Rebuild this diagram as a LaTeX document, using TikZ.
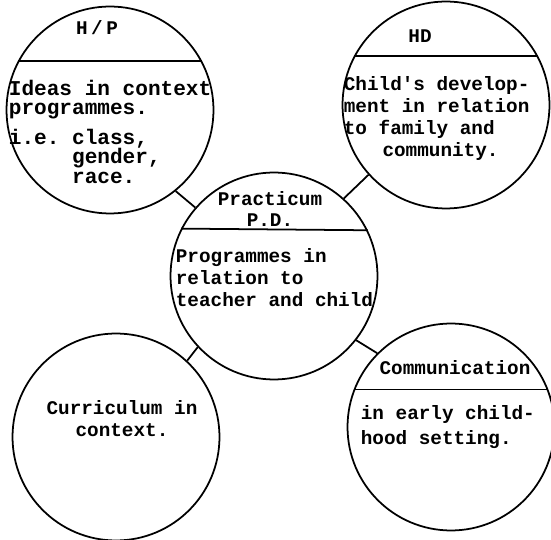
\documentclass[tikz,border=0pt]{standalone}
\usepackage{fontspec}
\setmonofont{Liberation Mono}
\lineskiplimit=-20pt
\tikzset{every node/.style={inner sep=0pt},
	blob/.style={circle,draw,line width=1pt,minimum size=4.14cm},
	lbl/.style={font=\ttfamily\bfseries\fontsize{11}{12.5}\selectfont,align=center},
	txt/.style={font=\ttfamily\bfseries\fontsize{11}{#1}\selectfont,
		align=left,anchor=north west},
	txt/.default=12.5}

\begin{document}
\begin{tikzpicture}[x=0.02cm,y=-0.02cm,line width=1pt]
\useasboundingbox (0,0) rectangle (551,540);
\node [blob] (hp) at (110,110) {};
\node [blob] (hd) at (446,105) {};
\node [blob] (pd) at (274,276) {};
\node [blob] (cur) at (116,437) {};
\node [blob] (com) at (451,427) {};
\draw (hp.152) -- (hp.28);
\draw (hd.152) -- (hd.28);
\draw (pd.153.5) -- (pd.26.5);
\draw (com.159) -- (com.21);
\draw (hp.-51) -- (pd.139);
\draw (hd.222) -- (pd.48);
\draw (cur.47) -- (pd.223);
\draw (com.135) -- (pd.-38);
\node [lbl] (hpt) at (97,28) {H\kern2pt/\kern2pt P};
\node [txt,font=\ttfamily\bfseries\fontsize{12}{11}\selectfont] (hpb) at (8,79)
	{Ideas in context\\programmes.\\[6pt]i.e. class,\\\phantom{i.e. }gender,\\\phantom{i.e. }race.};
\node [lbl] (hdt) at (420,36) {HD};
\node [txt] (hdb) at (343,76)
	{Child's develop-\\ment in relation\\to family and\\\hspace*{22pt}community.};
\node [lbl] (pdt) at (270,209) {Practicum\\P.D.};
\node [txt] (pdb) at (175,248) {Programmes in\\relation to\\teacher and child};
\node [lbl] (curt) at (122,419) {Curriculum in\\context.};
\node [lbl] (comt) at (455,368) {Communication};
\node [txt=14.2] (comb) at (360,405) {in early child-\\hood setting.};
\end{tikzpicture}
\end{document}
